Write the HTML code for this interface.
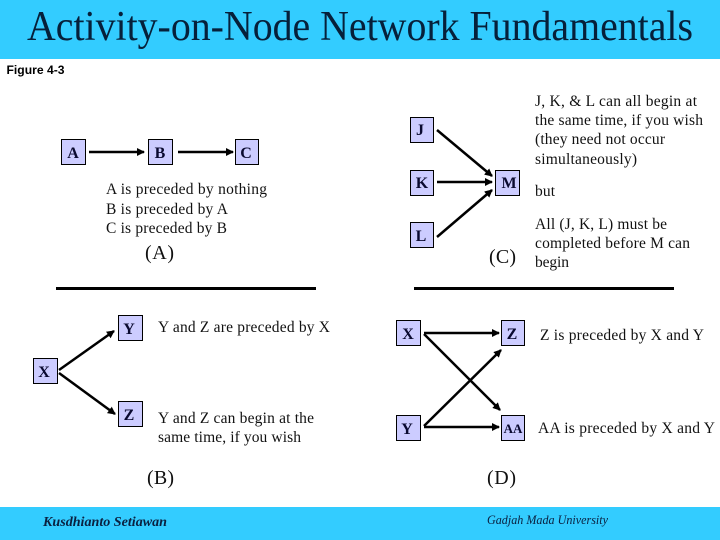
<!DOCTYPE html>
<html><head><meta charset="utf-8"><style>
html,body{margin:0;padding:0;background:#fff}
svg{display:block}
text{font-family:"Liberation Serif",serif;fill:#000}
.n{fill:#ccccff;stroke:#000;stroke-width:1}
.l{font-weight:bold;font-size:16px;text-anchor:middle;fill:#0a0a30}
.t{font-size:15.5px;fill:#111}
.c{font-size:20px;fill:#111}
.a{stroke:#000;stroke-width:2.5;fill:none;marker-end:url(#ah)}
</style></head><body>
<svg width="720" height="540" viewBox="0 0 720 540" xmlns="http://www.w3.org/2000/svg">
<defs><marker id="ah" markerUnits="userSpaceOnUse" markerWidth="9" markerHeight="10" refX="7" refY="5" orient="auto"><path d="M0,1L8,5L0,9z" fill="#000"/></marker></defs>
<rect width="720" height="540" fill="#fff"/>
<rect width="720" height="59" fill="#33ccff"/>
<rect y="507" width="720" height="33" fill="#33ccff"/>
<text x="27" y="40" font-size="42" textLength="666" lengthAdjust="spacingAndGlyphs" style="fill:#06203a">Activity-on-Node Network Fundamentals</text>
<text x="6.500" y="74" textLength="58" lengthAdjust="spacingAndGlyphs" style="font-family:'Liberation Sans',sans-serif;font-size:12px;font-weight:bold">Figure 4-3</text>

<rect class="n" x="61.500" y="139.500" width="24" height="25"/><text class="l" x="73" y="158">A</text>
<rect class="n" x="148.500" y="139.500" width="24" height="25"/><text class="l" x="160" y="158">B</text>
<rect class="n" x="235.500" y="139.500" width="23" height="25"/><text class="l" x="246" y="158">C</text>
<path class="a" d="M89,152H144"/><path class="a" d="M178,152H233"/>
<text class="t" x="106" y="194" textLength="161" lengthAdjust="spacing">A is preceded by nothing</text>
<text class="t" x="106" y="214" textLength="122" lengthAdjust="spacing">B is preceded by A</text>
<text class="t" x="106" y="233" textLength="121" lengthAdjust="spacing">C is preceded by B</text>
<text class="c" x="145" y="259" textLength="29" lengthAdjust="spacing">(A)</text>

<rect class="n" x="410.500" y="117.500" width="23" height="25"/><text class="l" x="420" y="135">J</text>
<rect class="n" x="410.500" y="170.500" width="23" height="25"/><text class="l" x="422" y="188">K</text>
<rect class="n" x="410.500" y="222.500" width="23" height="25"/><text class="l" x="421" y="241">L</text>
<rect class="n" x="495.500" y="170.500" width="24" height="25"/><text class="l" x="509" y="188">M</text>
<path class="a" d="M437,130L492,176"/><path class="a" d="M437,182H492"/><path class="a" d="M437,237L492,190"/>
<text class="t" x="535" y="106" textLength="162" lengthAdjust="spacing">J, K, &amp; L can all begin at</text>
<text class="t" x="535" y="125" textLength="168" lengthAdjust="spacing">the same time, if you wish</text>
<text class="t" x="535" y="144" textLength="130" lengthAdjust="spacing">(they need not occur</text>
<text class="t" x="535" y="164" textLength="102" lengthAdjust="spacing">simultaneously)</text>
<text class="t" x="535" y="196" textLength="20" lengthAdjust="spacing">but</text>
<text class="t" x="535" y="229" textLength="132" lengthAdjust="spacing">All (J, K, L) must be</text>
<text class="t" x="535" y="248" textLength="155" lengthAdjust="spacing">completed before M can</text>
<text class="t" x="535" y="267" textLength="34" lengthAdjust="spacing">begin</text>
<text class="c" x="489" y="263" textLength="27" lengthAdjust="spacing">(C)</text>

<rect x="56" y="287" width="260" height="3" fill="#000"/>
<rect x="414" y="287" width="260" height="3" fill="#000"/>

<rect class="n" x="118.500" y="315.500" width="24" height="25"/><text class="l" x="129" y="334">Y</text>
<rect class="n" x="33.500" y="358.500" width="24" height="25"/><text class="l" x="44" y="377">X</text>
<rect class="n" x="118.500" y="401.500" width="24" height="25"/><text class="l" x="129" y="420">Z</text>
<path class="a" d="M59,370L114,331"/><path class="a" d="M59,373L115,414"/>
<text class="t" x="158" y="332" textLength="172" lengthAdjust="spacing">Y and Z are preceded by X</text>
<text class="t" x="158" y="423" textLength="156" lengthAdjust="spacing">Y and Z can begin at the</text>
<text class="t" x="158" y="442" textLength="143" lengthAdjust="spacing">same time, if you wish</text>
<text class="c" x="147" y="484" textLength="27" lengthAdjust="spacing">(B)</text>

<rect class="n" x="396.500" y="320.500" width="24" height="25"/><text class="l" x="408" y="339">X</text>
<rect class="n" x="501.500" y="320.500" width="23" height="25"/><text class="l" x="512" y="339">Z</text>
<rect class="n" x="396.500" y="415.500" width="24" height="25"/><text class="l" x="407" y="434">Y</text>
<rect class="n" x="501.500" y="415.500" width="23" height="25"/><text class="l" x="513" y="433" style="font-size:13px">AA</text>
<path class="a" d="M424,333H499"/><path class="a" d="M424,334L500,410"/><path class="a" d="M424,426L501,350"/><path class="a" d="M424,427H499"/>
<text class="t" x="540" y="340" textLength="164" lengthAdjust="spacing">Z is preceded by X and Y</text>
<text class="t" x="538" y="433" textLength="177" lengthAdjust="spacing">AA is preceded by X and Y</text>
<text class="c" x="487" y="484" textLength="29" lengthAdjust="spacing">(D)</text>

<text x="43" y="526" textLength="124" lengthAdjust="spacingAndGlyphs" style="font-size:14px;font-style:italic;font-weight:bold;fill:#0a2040">Kusdhianto Setiawan</text>
<text x="487" y="524" textLength="121" lengthAdjust="spacingAndGlyphs" style="font-size:13px;font-style:italic;fill:#0a2040">Gadjah Mada University</text>
</svg>
</body></html>
